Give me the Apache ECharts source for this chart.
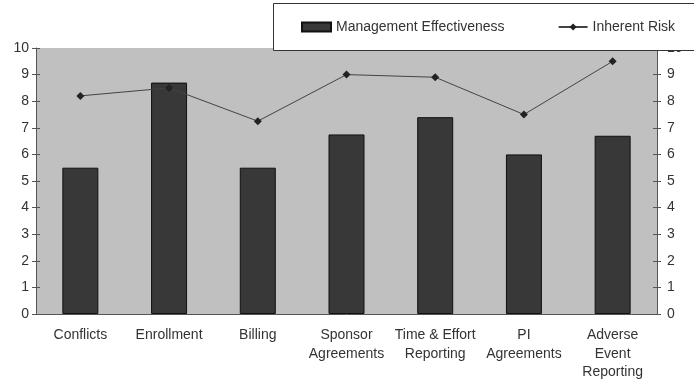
<!DOCTYPE html>
<html><head><meta charset="utf-8">
<script src="https://cdn.jsdelivr.net/npm/echarts@6/dist/echarts.min.js"></script>
<style>html,body{margin:0;padding:0;background:#fff}#c{width:694px;height:385px}</style>
</head><body><div id="c"></div>
<script>
var categories = ['Conflicts', 'Enrollment', 'Billing', 'Sponsor\nAgreements', 'Time & Effort\nReporting', 'PI\nAgreements', 'Adverse\nEvent\nReporting'];
var managementEffectiveness = [5.5, 8.7, 5.5, 6.75, 7.4, 6.0, 6.7];
var inherentRisk = [8.2, 8.5, 7.25, 9.0, 8.9, 7.5, 9.5];
var yTicks = [0, 1, 2, 3, 4, 5, 6, 7, 8, 9, 10];

var font = 'Liberation Sans, Arial, sans-serif';
var axisColor = '#555';
var textColor = '#333';
function yAx(pos, inside, labels) {
  return {
    type: 'value', position: pos, min: yTicks[0], max: yTicks[yTicks.length - 1], interval: 1,
    axisLine: { show: !inside, lineStyle: { color: axisColor, width: 1 } },
    axisTick: { show: true, inside: inside, length: 4, lineStyle: { color: axisColor } },
    axisLabel: { show: labels, color: textColor, fontFamily: font, fontSize: 14, margin: pos === 'left' ? 7 : 10 },
    splitLine: { show: false }
  };
}
var chart = echarts.init(document.getElementById('c'));
chart.setOption({
  animation: false,
  grid: { left: 36, right: 37, top: 48, bottom: 71, show: true, backgroundColor: '#c0c0c0', borderWidth: 0 },
  graphic: [{
    type: 'rect', z: 100, shape: { x: 273.5, y: 3.5, width: 440, height: 47 },
    style: { fill: '#fff', stroke: '#333', lineWidth: 1 }
  }],
  legend: {
    z: 110, left: 301, top: 20, padding: 0, itemGap: 53, itemWidth: 29, itemHeight: 9,
    textStyle: { color: textColor, fontFamily: font, fontSize: 14 },
    data: [
      { name: 'Management Effectiveness', icon: 'rect' },
      { name: 'Inherent Risk' }
    ]
  },
  xAxis: [{
    type: 'category', data: categories, position: 'bottom',
    axisLine: { lineStyle: { color: axisColor } },
    axisTick: { length: 5, lineStyle: { color: axisColor } },
    axisLabel: { color: textColor, fontFamily: font, fontSize: 14, lineHeight: 18.5, margin: 12, interval: 0 }
  }, {
    type: 'category', data: categories, position: 'bottom',
    axisLine: { show: false },
    axisTick: { inside: true, length: 4, lineStyle: { color: axisColor } },
    axisLabel: { show: false }
  }],
  yAxis: [yAx('left', false, true), yAx('left', true, false), yAx('right', false, true), yAx('right', true, false)],
  series: [{
    name: 'Management Effectiveness', type: 'bar', data: managementEffectiveness, barWidth: 36,
    itemStyle: { color: '#383838', borderColor: '#111', borderWidth: 1 }
  }, {
    name: 'Inherent Risk', type: 'line', data: inherentRisk,
    symbol: 'diamond', symbolSize: 8, z: 5,
    lineStyle: { color: '#444', width: 1 },
    itemStyle: { color: '#222' }
  }]
});
</script></body></html>
